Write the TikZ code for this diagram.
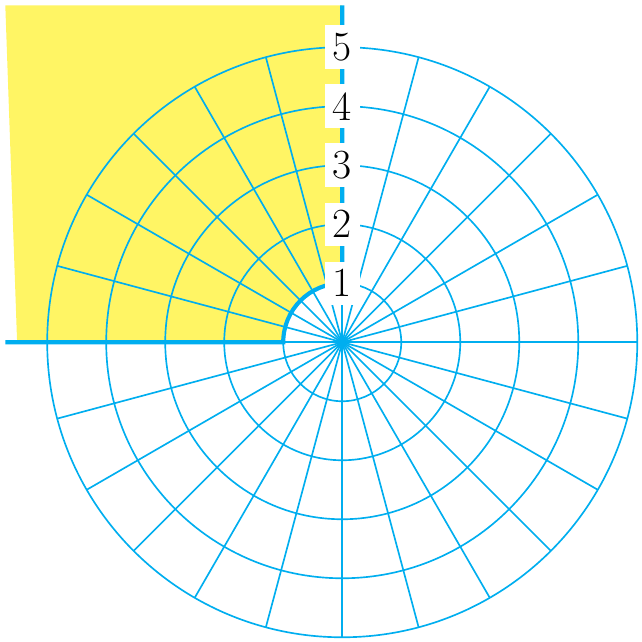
\documentclass[tikz,border=0pt]{standalone}
\usepackage{tikz}

\definecolor{gridcyan}{RGB}{0,174,239}
\definecolor{regionyellow}{RGB}{255,245,100}

\newcommand*\outerradius{5}
\newcommand*\raystep{15}

\tikzset{
    gridline/.style={draw=gridcyan, line width=0.8pt},
    boundary/.style={draw=gridcyan, line width=2pt},
    radiuslabel/.style={
        fill=white,
        inner sep=3.8pt,
        font=\fontsize{20}{22}\selectfont
    }
}

\begin{document}
\begin{tikzpicture}

    \useasboundingbox (-5.8,-5.08) rectangle (5.08,5.8);

    % Shade the region outside the unit circle.
    \fill[regionyellow] (-5.71,5.71) -- (0,5.71) -- (0,1)
        arc[start angle=90, end angle=180, radius=1] -- (-5.51,0) -- cycle;

    % Draw the circles.
    \foreach \r in {1,...,\outerradius}
        \draw[gridline] (0,0) circle[radius=\r];

    % Draw the rays.
    \foreach \a in {0,\raystep,...,345}
        \draw[gridline] (0,0) -- (\a:\outerradius);

    % The boundary of the region.
    \draw[boundary] (-5.71,0) -- (-1,0)
        arc[start angle=180, end angle=90, radius=1] -- (0,5.71);

    % Label the circles.
    \foreach \r in {1,...,\outerradius}
        \node[radiuslabel] (r\r) at (0,\r) {\r};

\end{tikzpicture}
\end{document}
